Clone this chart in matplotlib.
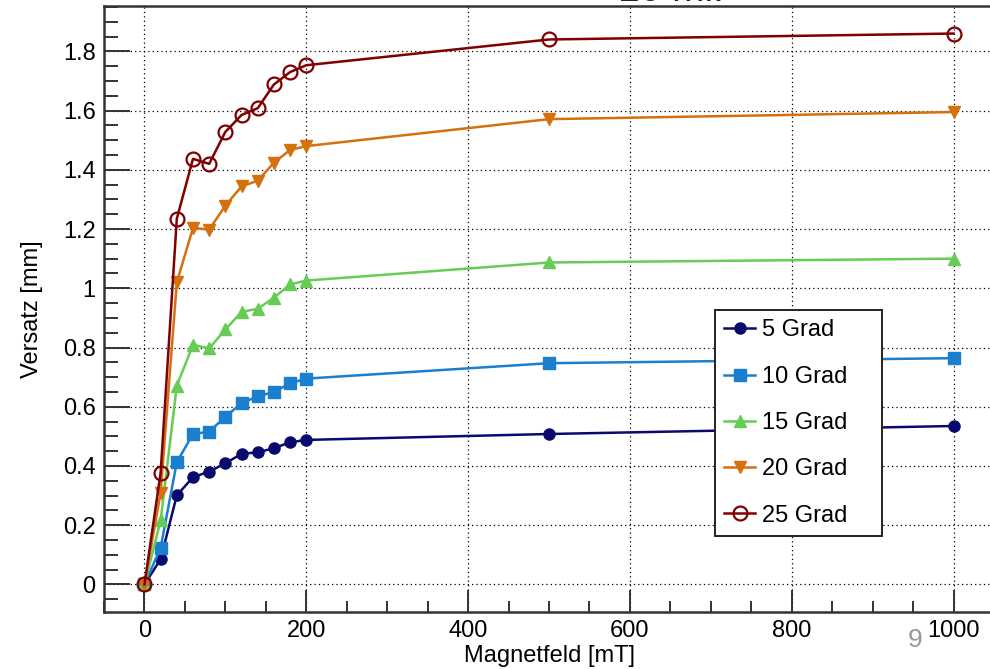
import numpy as np
import matplotlib
matplotlib.use("Agg")
import matplotlib.pyplot as plt
from matplotlib.ticker import MultipleLocator, FuncFormatter

plt.rcParams['font.family'] = ['Liberation Sans', 'DejaVu Sans']

# Messwerte: Versatz gegen Magnetfeld fuer verschiedene Winkel
feld = [0, 20, 40, 60, 80, 100, 120, 140, 160, 180, 200, 500, 1000]

grad5 = [0, 0.085, 0.301, 0.362, 0.381, 0.409, 0.441, 0.446, 0.460, 0.480, 0.488, 0.508, 0.535]
grad10 = [0, 0.124, 0.413, 0.508, 0.516, 0.566, 0.612, 0.635, 0.650, 0.679, 0.695, 0.747, 0.764]
grad15 = [0, 0.216, 0.671, 0.809, 0.797, 0.861, 0.920, 0.931, 0.968, 1.013, 1.026, 1.087, 1.100]
grad20 = [0, 0.31, 1.02, 1.204, 1.198, 1.279, 1.344, 1.363, 1.424, 1.467, 1.480, 1.571, 1.595]
grad25 = [0, 0.377, 1.235, 1.437, 1.420, 1.528, 1.585, 1.608, 1.688, 1.730, 1.753, 1.840, 1.860]

labels = ['5 Grad', '10 Grad', '15 Grad', '20 Grad', '25 Grad']

fig = plt.figure(figsize=(9.9, 6.69), dpi=100)
ax = fig.add_axes([104 / 990, 57 / 669, 890 / 990, 606 / 669])

styles = [
    dict(color='#0a0a6e', marker='o', ms=8, mfc='#0a0a6e'),
    dict(color='#1a7fcf', marker='s', ms=9, mfc='#1a7fcf'),
    dict(color='#66cc55', marker='^', ms=9, mfc='#66cc55'),
    dict(color='#d5700f', marker='v', ms=9, mfc='#d5700f'),
    dict(color='#7f0000', marker='o', ms=10, mfc='none', mew=1.6),
]
for y, lab, st in zip([grad5, grad10, grad15, grad20, grad25], labels, styles):
    ax.plot(feld, y, lw=1.8, label=lab, mec=st['color'], **st)

ax.set_xlim(-50, 1050)
ax.set_ylim(-0.093, 1.953)

ax.xaxis.set_major_locator(MultipleLocator(200))
ax.xaxis.set_minor_locator(MultipleLocator(50))
ax.yaxis.set_major_locator(MultipleLocator(0.2))
ax.yaxis.set_minor_locator(MultipleLocator(0.05))
ax.yaxis.set_major_formatter(FuncFormatter(lambda v, p: f"{v:g}" if abs(v) > 1e-9 else "0"))

ax.grid(True, which='major', color='black', linestyle=(0, (1, 2.5)), linewidth=0.9)
ax.set_axisbelow(True)

ax.tick_params(axis='x', which='major', direction='in', length=16, width=1.4,
               labelsize=17, pad=6, color='#333333')
ax.tick_params(axis='x', which='minor', direction='in', length=8, width=1.4, color='#333333')
ax.tick_params(axis='y', which='major', direction='in', length=19, width=1.4,
               labelsize=17, pad=6, color='#333333')
ax.tick_params(axis='y', which='minor', direction='in', length=10, width=1.4, color='#333333')

for side in ['left', 'bottom', 'top']:
    ax.spines[side].set_linewidth(1.8)
    ax.spines[side].set_color('#333333')
ax.spines['right'].set_visible(False)

ax.set_xlabel('Magnetfeld [mT]', fontsize=17, labelpad=2)
ax.set_ylabel('Versatz [mm]', fontsize=17, labelpad=14)

# Legendenkasten: links 715 px, oben 310 px, Breite 167 px
x0 = (715 - 104) / 890
y_top = (612 - 310) / 606
leg = ax.legend(loc='upper left', bbox_to_anchor=(x0, y_top - 0.3, 167 / 890, 0.3),
                mode='expand', borderaxespad=0,
                fontsize=17, handlelength=1.3, labelspacing=1.03, borderpad=0.4,
                handletextpad=0.3, fancybox=False, framealpha=1, edgecolor='#222222')
leg.get_frame().set_linewidth(1.4)

# Seitenzahl und abgeschnittene Ueberschrift
fig.text(915 / 990, 1 - 640 / 669, '9', fontsize=19, color='#999999', ha='center', va='center')
fig.text(618 / 990, 1 - 1 / 669, '10 ml.', fontsize=28, color='#222222', ha='left', va='baseline')

fig.savefig('out.png', dpi=100)
